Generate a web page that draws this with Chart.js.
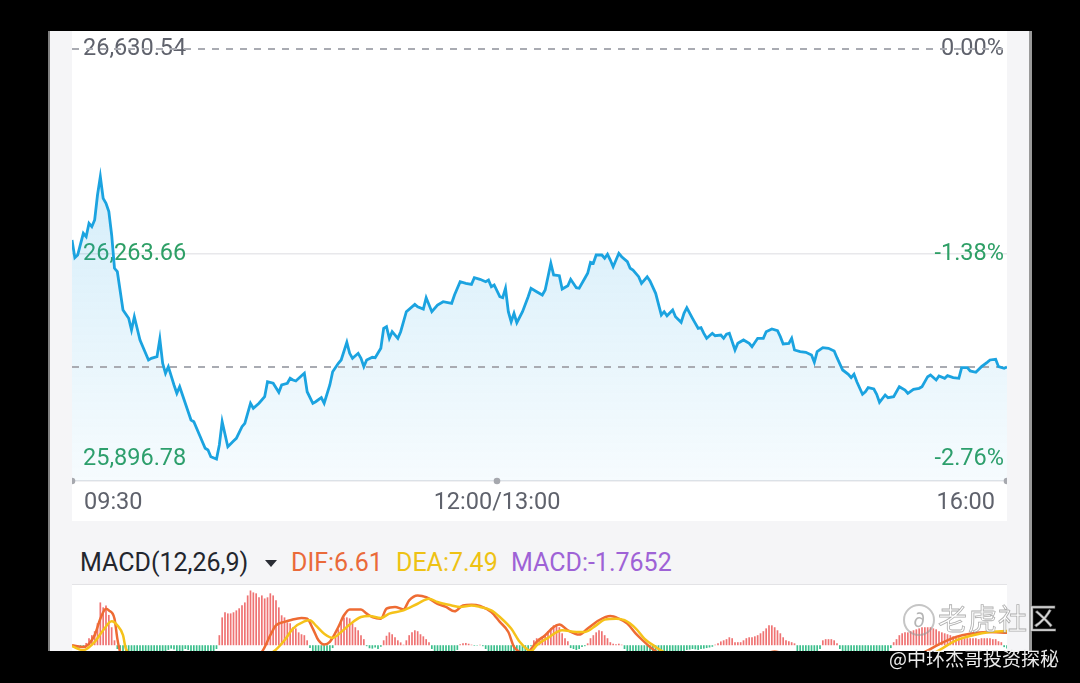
<!DOCTYPE html>
<html><head><meta charset="utf-8">
<script src="https://cdn.jsdelivr.net/npm/chart.js@4.4.1/dist/chart.umd.min.js"></script>
<style>
html,body{margin:0;padding:0;background:#000;}
body{width:1080px;height:683px;position:relative;overflow:hidden;font-family:Roboto,"Noto Sans",sans-serif;}
.abs{position:absolute;}
#panel{left:48px;top:31px;width:984px;height:620px;background:#f5f5f7;border-left:2px solid #808080;border-right:3px solid #9a9a9a;box-sizing:border-box;}
#priceBox{left:72px;top:31px;width:935px;height:490px;background:#fff;}
#sep{left:72px;top:584px;width:935px;height:1px;background:#e3e3e6;}
#macdBox{left:72px;top:585px;width:935px;height:66px;background:#fff;}
#band{left:0;top:651px;width:1080px;height:32px;background:#000;}
.hdr{top:549px;height:28px;line-height:28px;font-size:25px;white-space:nowrap;}
#tri{left:265px;top:560px;width:0;height:0;border-left:6px solid transparent;border-right:6px solid transparent;border-top:7px solid #2a2d35;}
#wmLogo{left:903px;top:604px;width:28px;height:28px;border:2px solid rgba(150,150,150,0.55);border-radius:50%;color:rgba(150,150,150,0.7);font-size:20px;line-height:28px;text-align:center;font-style:italic;}
#wmText{left:938px;top:601px;font-size:29px;line-height:32px;font-family:"Noto Sans CJK SC",sans-serif;color:rgba(255,255,255,0.85);-webkit-text-stroke:0.8px rgba(120,120,120,0.6);letter-spacing:1px;white-space:nowrap;}
#author{left:889px;top:646px;font-size:19px;line-height:24px;font-family:"Noto Sans CJK SC",sans-serif;color:#ececec;white-space:nowrap;}
</style></head>
<body>
<div id="panel" class="abs"></div>
<div id="priceBox" class="abs"><canvas id="price" width="935" height="490"></canvas></div>
<div class="abs hdr" style="left:80px;color:#23262e;">MACD(12,26,9)</div>
<div id="tri" class="abs"></div>
<div class="abs hdr" style="left:291px;color:#ea6a3a;">DIF:6.61</div>
<div class="abs hdr" style="left:396px;color:#eec214;">DEA:7.49</div>
<div class="abs hdr" style="left:511px;color:#9e62d6;">MACD:-1.7652</div>
<div id="sep" class="abs"></div>
<div id="macdBox" class="abs"><canvas id="macd" width="935" height="66"></canvas></div>
<div id="band" class="abs"></div>
<div id="wmLogo" class="abs">∂</div>
<div id="wmText" class="abs">老虎社区</div>
<div id="author" class="abs">@中环杰哥投资探秘</div>
<script>
// ---- price series (minute offset from 09:30, lunch break removed) ----
const priceMinutes = [0,1,2,4,5,6,7,8,9,10,11,12,13,14,15,16,18,20,21,22,24,25,27,28,30,31,32,33,34,36,37,38,41,42,43,45,47,48,49,51,52,53,55,57,58,60,61,63,64,66,68,69,71,73,74,76,77,78,79,81,82,83,85,86,88,89,91,92,94,95,97,98,99,101,102,103,104,106,107,109,110,111,112,113,115,116,118,121,122,124,125,127,129,131,134,135,137,139,141,142,144,146,147,148,149,151,152,153,154,155,156,157,159,161,162,164,166,167,168,169,170,172,173,175,176,178,179,181,182,183,184,185,187,188,189,190,191,193,194,196,197,198,200,201,203,204,206,208,209,210,212,213,215,216,217,219,220,221,222,223,224,226,227,229,230,231,232,234,235,237,239,240,242,244,245,247,249,250,251,253,254,255,257,259,261,262,263,265,267,269,270,272,274,275,276,277,279,280,281,283,284,285,287,288,290,292,294,295,297,299,300,302,303,305,306,308,309,311,313,314,316,317,319,321,323,324,326,327,329,330];
const priceValues = [26288.7,26257.0,26261.9,26300.7,26294.6,26318.6,26312.5,26324.5,26369.2,26402.0,26363.3,26354.4,26339.4,26297.7,26238.1,26232.0,26163.4,26148.6,26127.6,26151.4,26109.8,26097.8,26074.0,26077.0,26079.9,26111.5,26068.0,26050.2,26062.0,26029.2,26014.4,26026.2,25981.4,25966.6,25963.5,25939.7,25915.9,25912.9,25900.9,25896.8,25921.8,25963.5,25918.8,25929.0,25933.8,25954.6,25960.7,25996.5,25987.5,25996.5,26008.3,26035.1,26032.3,26016.1,26029.2,26032.3,26041.2,26038.2,26036.4,26045.9,26050.2,26017.2,25996.5,25999.3,26006.5,25996.5,26029.2,26053.0,26068.0,26074.0,26105.6,26085.9,26077.0,26085.9,26077.0,26062.0,26074.0,26078.8,26078.1,26094.9,26130.7,26133.6,26112.8,26124.6,26112.8,26124.6,26160.4,26173.6,26169.3,26165.2,26185.5,26160.4,26172.4,26178.3,26175.4,26190.3,26214.1,26211.2,26209.4,26221.2,26218.4,26214.1,26217.1,26205.1,26208.2,26187.2,26185.5,26202.3,26160.4,26142.5,26157.5,26140.7,26160.4,26187.2,26202.3,26196.2,26190.3,26199.2,26223.0,26247.0,26226.1,26224.8,26201.0,26206.9,26218.4,26203.4,26202.3,26220.2,26229.1,26248.8,26247.0,26261.9,26261.9,26256.0,26263.1,26252.9,26240.9,26264.9,26258.8,26249.9,26238.1,26235.0,26223.0,26211.2,26223.0,26215.3,26193.3,26154.5,26160.4,26153.2,26163.4,26151.4,26141.4,26157.5,26167.5,26148.6,26139.6,26130.7,26131.8,26121.7,26112.8,26121.7,26117.4,26118.7,26112.8,26120.0,26121.7,26091.9,26103.8,26109.8,26103.8,26097.8,26112.8,26112.8,26124.6,26129.4,26126.4,26115.7,26102.6,26103.8,26112.8,26091.9,26088.8,26087.7,26082.9,26069.8,26088.8,26096.0,26094.9,26090.1,26078.1,26056.1,26048.4,26042.3,26048.4,26035.1,26012.6,26017.2,26024.4,26022.1,26012.6,25998.3,26011.3,26006.5,26008.3,26026.2,26020.3,26014.4,26021.5,26023.3,26026.2,26044.1,26047.1,26038.2,26045.3,26041.2,26045.9,26042.3,26041.2,26060.2,26060.2,26054.3,26051.9,26062.0,26069.8,26074.0,26075.2,26062.0,26059.1,26061.4];
const priceTicks = [25896.78, 26263.66, 26630.54];
const priceTickLabels = ['25,896.78', '26,263.66', '26,630.54'];
const pctTickLabels = ['-2.76%', '-1.38%', '0.00%'];
const timeTicks = [0, 150, 330];
const timeLabels = ['09:30', '12:00/13:00', '16:00'];

// ---- MACD(12,26,9) ----
const macdHist = [
-0.5,-1.2,-1.6,-1.2,-0.6,1.2,
3.7,5.3,7.4,11.6,22.6,20,21,16,9.5,2.6,
-2,-4.5,-6,-7,-7.5,-8,-8,-8,-7.5,-7,-7,-6.5,-6,-6,-5.5,-5,-4.5,-3.5,-2.5,-1.8,-2.2,-3.5,-4,-3,-2,-2.5,-4,-5,-5.5,-6,-6,-5.5,-5,-4.5,-3.5,-2,
5.3,14.7,17.4,16.8,16.8,17.4,18.4,19.5,21.1,22.6,26.3,28.9,27.9,27.4,25.3,26.3,24.7,25.3,27.4,26.3,23.7,20,15.8,14.7,12.1,11.6,9.5,8.9,6.8,5.8,5.3,2.6,
-1.5,-4,-6,-7,-7,-6.5,-5.5,-4,-1.5,
4.2,8.4,12.1,14.7,14.7,14.2,11.6,9.5,7.9,5.3,3.2,
-0.5,-1.6,-1.8,-1.2,-2,-0.8,
2.6,5,6.8,5.8,4.2,2.6,1.5,
0.3,
2.6,5.3,6.8,7.9,7.4,5.8,4.7,3.2,1.6,
-2,-4.5,-6,-7,-7,-7,-6.5,-5.5,-4,-2.5,
0.5,1,1.2,0.8,
0.3,-0.3,-0.2,0.2,-0.5,
-2,-4,-5.5,-6.5,-7,-7.5,-7.5,-7.5,-7,-7,-6.5,-6,-5.5,-4.5,-3.5,-2,-0.5,
2.6,3.7,3.7,4.2,5.3,7.4,8.9,10.5,11.1,9.5,6.3,3.7,2.1,
-1.5,-2,-2.5,-2,-1,-0.5,
1,3.7,5.3,6.8,7.9,7.4,5.3,3.7,1.6,0.8,
0.5,0.8,0.3,
-2,-4.5,-6,-7.5,-8.5,-9,-9.5,-10,-10,-10,-9.5,-9,-8.5,-8,-7.5,-7,-6.5,-6,-5,-4.5,-4,-3.5,
-2.5,-2.3,-2,-2.2,-2.5,-2,-1.8,-1.5,-1.2,-0.8,
0.3,1,2,2.6,3.2,4.2,3.7,1.6,
1.6,1.6,2.6,3.7,4.2,4.2,4.7,5.3,6.3,7.4,8.9,10.5,10.5,9.5,7.9,6.3,4.2,2.6,2.1,1.6,1,
-4,-5,-6,-6,-6,-6,-5,-4,-2,
2.6,3.2,3.2,3.2,2.6,1,
-2,-4,-5.5,-6.5,-7,-7.5,-8,-8,-8,-7.5,-7,-6.5,-6,-5.5,-5,-4.5,-4,-3,-1.5,
1.6,3.2,5.3,6.3,6.8,6.8,7.4,7.9,8.4,8.9,9.5,9.5,9.5,9.5,8.9,8.4,7.4,6.8,6.3,5.8,5.3,4.7,4.2,4.2,3.7,3.7,3.7,3.7,3.7,3.7,3.2,3.7,3.7,3.7,3.7,3.2,3.2,2.1,1.6,
-1,-1.7652];
const difMinutes = [0,4,8,10,12,13,15,16,17,22,30,40,50,60,67,70,72,75,77,81,83,85,87,89,91,94,96,98,102,104,106,109,111,114,117,119,122,125,129,132,135,138,141,144,148,151,154,156,158,160,162,164,167,170,172,175,179,182,186,190,193,196,199,202,204,206,212,225,238,244,248,252,258,270,285,295,301,306,312,317,323,330];
const difValues = [0,-1,5.3,14,19.3,18.4,14,3.5,-3.5,-12,-18,-20,-15,-9,-3.5,5.3,10.5,12.3,13.2,14.4,14,8.8,2.6,0.4,1.8,9.6,15.8,18.9,18.9,16.7,14.9,14,19.3,20.2,18.9,23.7,26.3,25.4,21.9,20.2,17.9,21,21.4,20.7,17.5,12.3,7,-0.9,-3.5,-5,-2,1.8,5.3,9.6,10.9,7.9,5.6,8.8,13.2,15.4,14,11.4,6.1,1.8,-0.9,-3.2,-10,-12,-8,-5,-3.3,-5,-8,-11,-9,-6,-3.5,0.5,4.4,6.1,7,6.61];
const deaMinutes = [0,4,8,11,14,16,18,19,25,35,45,55,65,71,75,78,82,84,86,89,92,95,98,102,105,109,112,117,122,126,129,134,137,141,144,148,151,155,158,161,162,164,168,173,178,181,185,188,192,195,199,202,206,208,215,228,245,260,275,290,300,305,312,318,324,330];
const deaValues = [-0.5,-2.6,1.8,7.9,12.6,10.5,5.3,-1.8,-8,-14,-15,-12,-6,-3.5,2.6,8.8,12.6,13.2,10.5,6.1,3.9,7,10.9,14.9,15.4,14.4,16.7,18.4,21.9,24.6,22.8,21,20.2,21,20.2,18.4,14.9,8.8,1.8,-2.6,-3.2,0,3.9,7.9,7,7,10.5,13.5,14,13.2,8.8,3.5,-0.9,-2.8,-8,-10,-8.5,-7,-8,-8,-6,-3.5,2.6,5.3,7,7.49];

const Y_MIN = 25857.4, Y_MAX = 26662.75;
const GRAY = '#5f626c', GREEN = '#2e9f66';
const FONT = 'Roboto';
const lastPrice = priceValues[priceValues.length - 1];

const noPad = s => { s.paddingTop = 0; s.paddingBottom = 0; s.paddingLeft = 0; s.paddingRight = 0; };

const xLabelPlugin = {
  id: 'xLabels',
  afterDraw(chart) {
    const {ctx, chartArea} = chart;
    const xs = chart.scales.x;
    ctx.save();
    ctx.font = '23.5px ' + FONT;
    ctx.fillStyle = GRAY;
    ctx.textBaseline = 'middle';
    timeTicks.forEach((m, i) => {
      let px = xs.getPixelForValue(m);
      let align = 'center';
      if (i === 0) { align = 'left'; px += 12; }
      else if (i === timeTicks.length - 1) { align = 'right'; px -= 12; }
      ctx.textAlign = align;
      ctx.fillText(timeLabels[i], px, chartArea.bottom + 22);
    });
    ctx.restore();
  }
};

function fillGrad(context) {
  const chart = context.chart;
  const area = chart.chartArea;
  if (!area) return 'rgba(27,160,226,0.1)';
  const g = chart.ctx.createLinearGradient(0, area.top, 0, area.bottom);
  g.addColorStop(0, 'rgba(27,160,226,0.25)');
  g.addColorStop(1, 'rgba(27,160,226,0.04)');
  return g;
}

const yTickCommon = (labels, pad) => ({
  mirror: true, padding: pad, autoSkip: false,
  font: {family: FONT, size: 23.5},
  color: c => (c.index === 2 ? GRAY : GREEN),
  callback: (v, i) => labels[i]
});

new Chart(document.getElementById('price'), {
  type: 'line',
  data: {
    datasets: [
      {data: priceMinutes.map((m, i) => ({x: m, y: priceValues[i]})), borderColor: '#1ba3e0', borderWidth: 2.8,
       pointRadius: 0, tension: 0, fill: 'start', backgroundColor: fillGrad, order: 0},
      {data: [{x: timeTicks[0], y: priceTicks[2]}, {x: timeTicks[2], y: priceTicks[2]}], borderColor: '#a9abb2',
       borderWidth: 2, borderDash: [7, 7], pointRadius: 0, fill: false, order: 1},
      {data: [{x: timeTicks[0], y: lastPrice}, {x: timeTicks[2], y: lastPrice}], borderColor: '#a9abb2',
       borderWidth: 2, borderDash: [7, 7], pointRadius: 0, fill: false, order: 1},
      {type: 'scatter', data: timeTicks.map(m => ({x: m, y: Y_MIN})), pointRadius: 3.3,
       pointBackgroundColor: '#a6a8ae', pointBorderWidth: 0, clip: false, order: 2}
    ]
  },
  options: {
    responsive: false, animation: false, devicePixelRatio: 1,
    layout: {autoPadding: false, padding: {top: 0, bottom: 40, left: 0, right: 0}},
    plugins: {legend: {display: false}, tooltip: {enabled: false}, filler: {drawTime: 'beforeDatasetsDraw'}},
    scales: {
      x: {type: 'linear', min: 0, max: 330, afterFit: s => { s.height = 0; noPad(s); },
          ticks: {display: false}, grid: {display: false, drawTicks: false},
          border: {display: true, color: '#e4e4e7', width: 1.5}},
      y: {position: 'left', min: Y_MIN, max: Y_MAX, afterFit: s => { s.width = 0; noPad(s); },
          afterBuildTicks: s => { s.ticks = priceTicks.map(v => ({value: v})); },
          ticks: yTickCommon(priceTickLabels, 11),
          grid: {drawTicks: false, lineWidth: 1.5,
                 color: c => (c.tick && c.tick.value === priceTicks[1]) ? '#e8e8eb' : 'rgba(0,0,0,0)'},
          border: {display: false}},
      y2: {position: 'right', min: Y_MIN, max: Y_MAX, afterFit: s => { s.width = 0; noPad(s); },
          afterBuildTicks: s => { s.ticks = priceTicks.map(v => ({value: v})); },
          ticks: yTickCommon(pctTickLabels, -3),
          grid: {display: false, drawTicks: false}, border: {display: false}}
    }
  },
  plugins: [xLabelPlugin]
});

new Chart(document.getElementById('macd'), {
  type: 'bar',
  data: {
    datasets: [
      {type: 'line', data: difMinutes.map((m, i) => ({x: m, y: difValues[i]})), borderColor: '#ee6b33',
       borderWidth: 2.5, pointRadius: 0, cubicInterpolationMode: 'monotone', order: 1},
      {type: 'line', data: deaMinutes.map((m, i) => ({x: m, y: deaValues[i]})), borderColor: '#f5c21a',
       borderWidth: 2.5, pointRadius: 0, cubicInterpolationMode: 'monotone', order: 0},
      {type: 'bar', data: macdHist.map((v, i) => ({x: i, y: v})),
       backgroundColor: macdHist.map(v => v >= 0 ? '#ef7373' : '#3bbf8c'),
       barPercentage: 0.6, categoryPercentage: 1, order: 2}
    ]
  },
  options: {
    responsive: false, animation: false, devicePixelRatio: 1,
    layout: {autoPadding: false, padding: 0},
    plugins: {legend: {display: false}, tooltip: {enabled: false}},
    scales: {
      x: {type: 'linear', min: 0, max: 330, display: false, offset: false, afterFit: noPad},
      y: {min: -3.05, max: 31.8, display: false, afterFit: noPad}
    }
  }
});
</script>
</body></html>
